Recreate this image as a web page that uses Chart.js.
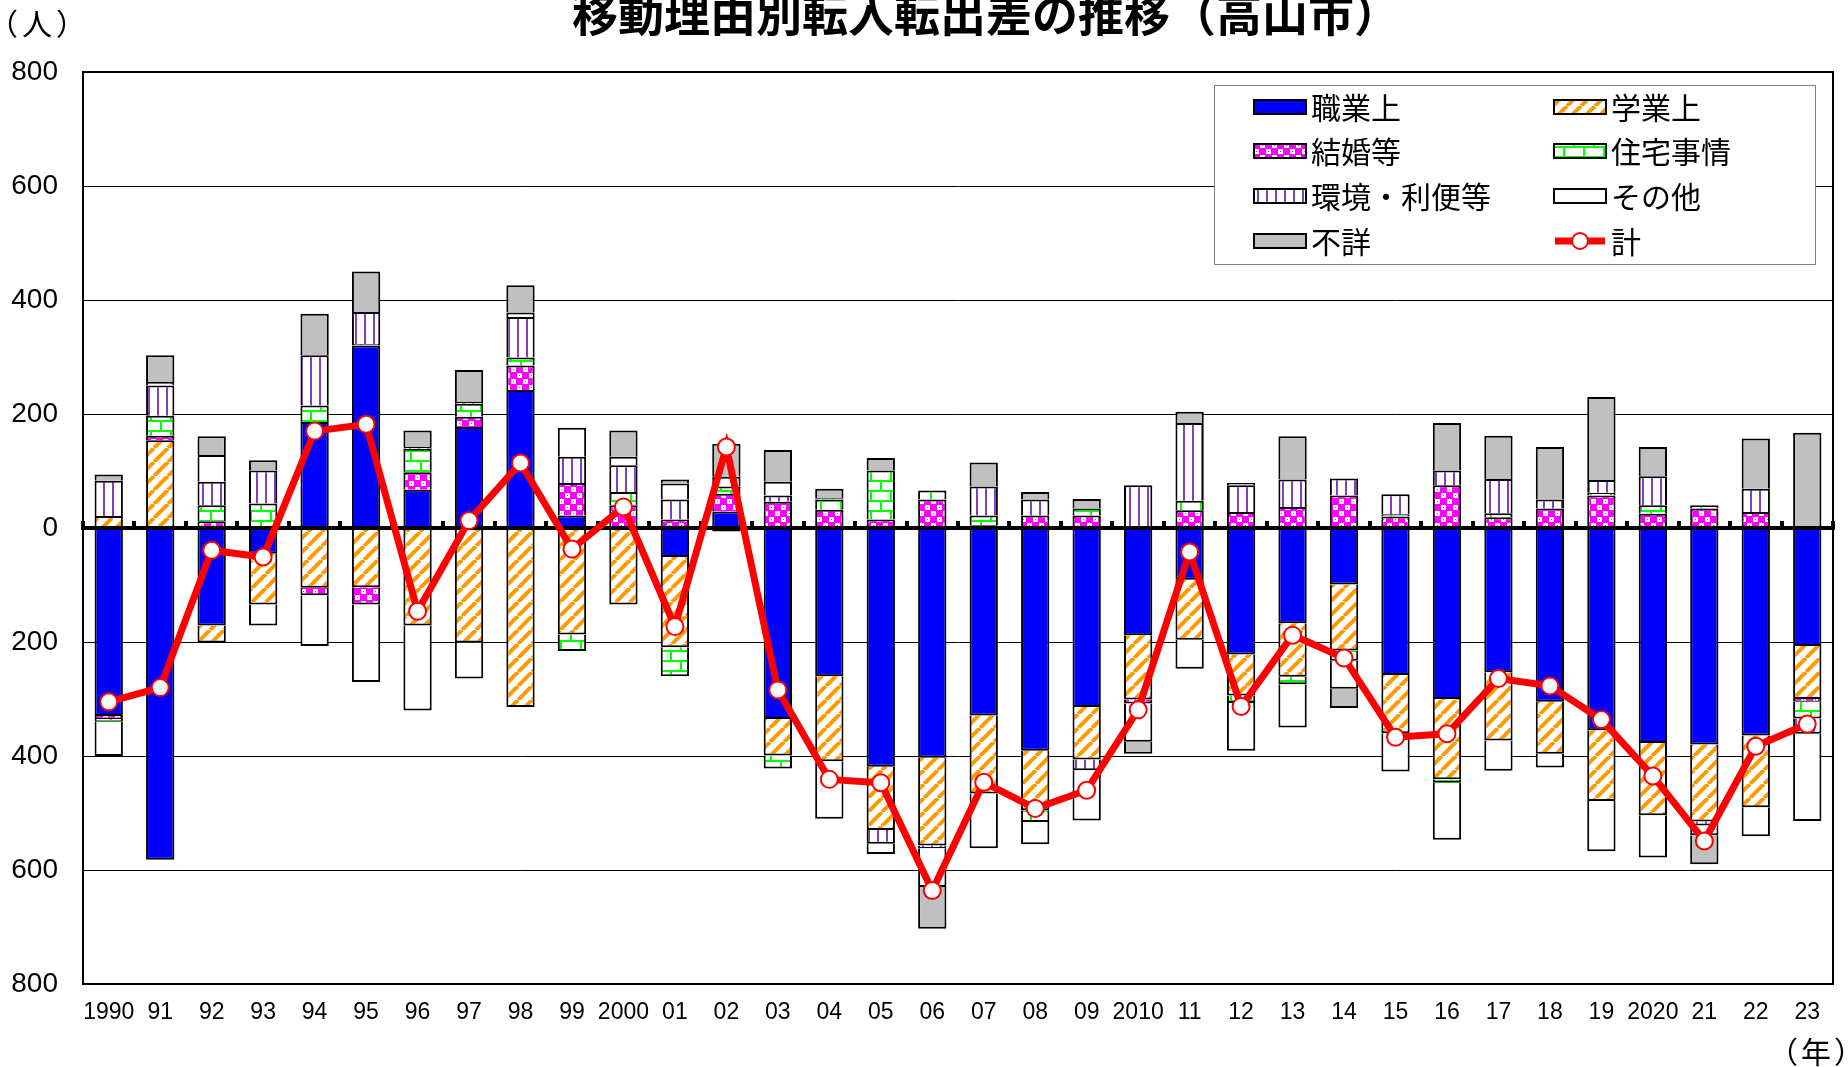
<!DOCTYPE html>
<html lang="ja">
<head>
<meta charset="utf-8">
<title>移動理由別転入転出差の推移（高山市）</title>
<script src="https://cdn.jsdelivr.net/npm/chart.js@4.4.1/dist/chart.umd.min.js"></script>
<style>
  html, body { margin: 0; padding: 0; background: #fff; overflow: hidden; }
  #wrap { position: relative; width: 1848px; height: 1067px; overflow: hidden; background: #fff; }
  #chartBox { position: absolute; left: 0; top: 0; width: 1848px; height: 1067px; }
  .jp { font-family: "Noto Sans CJK JP", "Noto Sans CJK SC", sans-serif; color: #000; position: absolute; white-space: nowrap; line-height: 1; }
  #title { font-size: 46px; font-weight: bold; left: 986px; top: -12px; transform: translateX(-50%); }
  #unitY { font-size: 30px; left: -12px; top: 7px; letter-spacing: 4px; }
  #unitX { font-size: 30px; left: 1768px; top: 1035px; letter-spacing: 3px; }
  #legend { position: absolute; left: 1214px; top: 85px; width: 600px; height: 178px; border: 1px solid #808080; background: #fff; }
  .item { position: absolute; height: 30px; }
  .item canvas { position: absolute; left: 0; top: 0; }
  .item span { position: absolute; left: 58px; top: -1px; font-size: 30px; line-height: 30px; font-family: "Noto Sans CJK JP", sans-serif; color: #000; white-space: nowrap; }
</style>
</head>
<body>
<div id="wrap">
  <div id="chartBox"><canvas id="c"></canvas></div>
  <div id="title" class="jp">移動理由別転入転出差の推移（高山市）</div>
  <div id="unitY" class="jp">（人）</div>
  <div id="unitX" class="jp">（年）</div>
  <div id="legend"></div>
</div>
<script>
// ---- data (persons, net in-migration minus out-migration) ----
const years = ['1990','91','92','93','94','95','96','97','98','99','2000','01','02','03','04','05','06','07','08','09','2010','11','12','13','14','15','16','17','18','19','2020','21','22','23'];
const seriesNames = ['職業上','学業上','結婚等','住宅事情','環境・利便等','その他','不詳','計'];

const job      = [-330,-582,-171,-45,186,320,67,177,242,22,null,-51,29,-335,-260,-419,-403,-329,-391,-314,-188,-91,-222,-167,-99,-258,-300,-253,-305,-355,-377,-380,-364,-207];
const school   = [21,154,-30,-89,-105,-104,-171,-201,-314,-187,-134,-158,-6,-64,-149,-111,-154,-137,-104,-92,-113,-105,-72,-94,-116,-102,-141,-120,-91,-124,-127,-135,-126,-93];
const marriage = [-5,8,12,null,-13,-30,31,18,43,57,40,15,31,46,32,15,50,5,22,22,-7,31,28,37,57,20,75,19,34,57,25,34,28,-5];
const housing  = [-5,35,28,43,29,3,41,23,14,-29,23,-51,13,-23,18,86,16,17,-21,12,null,17,-13,-13,-18,4,-6,7,null,5,15,6,null,-29];
const env      = [62,53,41,58,88,56,3,3,71,46,47,35,null,11,2,-24,-5,51,28,-19,75,136,47,48,30,35,26,60,16,22,51,-7,41,-27];
const other    = [-60,6,47,-37,-89,-136,-149,-63,8,51,15,28,17,24,-101,-18,-68,-96,-39,-88,-67,-51,-84,-76,-49,-67,-100,-53,-24,-88,-74,-17,-51,-153];
const unknown  = [11,47,33,18,73,71,29,56,48,null,46,7,58,56,17,22,-73,42,13,17,-21,20,4,76,-34,null,83,76,92,146,51,-51,88,167];
const total    = [-305,-280,-39,-51,170,182,-146,13,114,-37,37,-173,142,-284,-441,-447,-636,-446,-492,-460,-319,-42,-313,-188,-228,-367,-361,-264,-277,-336,-435,-549,-383,-344];

const yTicks = [-800,-600,-400,-200,0,200,400,600,800];

// ---- patterns ----
function tile(w, h, draw) {
  const t = document.createElement('canvas');
  t.width = w; t.height = h;
  draw(t.getContext('2d'), w, h);
  return t;
}
const tiles = {
  school: tile(14, 14, (g, s) => {
    g.fillStyle = '#fff'; g.fillRect(0, 0, s, s);
    g.strokeStyle = '#FF9900'; g.lineWidth = 4;
    for (let k = -1; k <= 1; k++) { g.beginPath(); g.moveTo(k * s, s); g.lineTo(k * s + s, 0); g.stroke(); }
  }),
  marriage: tile(12, 12, (g) => {
    g.fillStyle = '#FF00FF'; g.fillRect(0, 0, 12, 12);
    g.fillStyle = '#fff'; g.fillRect(1, 1, 5, 5); g.fillRect(7, 7, 5, 5);
    g.fillStyle = '#FF00FF'; g.fillRect(3, 3, 1, 1); g.fillRect(9, 9, 1, 1);
  }),
  housing: tile(20, 20, (g) => {
    g.fillStyle = '#fff'; g.fillRect(0, 0, 20, 20);
    g.fillStyle = '#00FF00';
    g.fillRect(0, 0, 20, 2); g.fillRect(0, 10, 20, 2);
    g.fillRect(0, 0, 2, 10); g.fillRect(10, 10, 2, 10);
  }),
  env: tile(9, 4, (g) => {
    g.fillStyle = '#fff'; g.fillRect(0, 0, 9, 4);
    g.fillStyle = '#7F3FBF'; g.fillRect(4, 0, 2, 4);
  })
};
const mainCtx = document.getElementById('c').getContext('2d');
const pat = (name) => mainCtx.createPattern(tiles[name], 'repeat');

const fills = ['#0000FF', pat('school'), pat('marriage'), pat('housing'), pat('env'), '#FFFFFF', '#C0C0C0'];
const barSeries = [job, school, marriage, housing, env, other, unknown];

const datasets = barSeries.map((vals, i) => ({
  type: 'bar',
  label: seriesNames[i],
  data: vals,
  backgroundColor: fills[i],
  borderColor: '#000',
  borderWidth: 2,
  barPercentage: 0.55,
  categoryPercentage: 1.0,
  stack: 'reasons'
}));
datasets.push({
  type: 'line',
  label: seriesNames[7],
  data: total,
  borderColor: '#FF0000',
  borderWidth: 7,
  pointRadius: 8.5,
  pointBackgroundColor: '#FFFFFF',
  pointBorderColor: '#FF0000',
  pointBorderWidth: 2,
  tension: 0,
  stack: 'total',
  order: -1
});

// redraw the zero axis over the bars, under the total line
const zeroAxisOverBars = {
  id: 'zeroAxisOverBars',
  beforeDatasetDraw(chart, args) {
    if (args.meta.type === 'line') chart.scales.x2.draw(chart.chartArea);
  }
};

const tickFont = { family: '"Liberation Sans", Arial, sans-serif' };

new Chart(mainCtx, {
  data: { labels: years, datasets },
  plugins: [zeroAxisOverBars],
  options: {
    responsive: true,
    maintainAspectRatio: false,
    animation: false,
    layout: { padding: { top: 72, left: 0, right: 0, bottom: 0 } },
    plugins: {
      legend: { display: false },
      tooltip: { enabled: false },
      title: { display: false }
    },
    scales: {
      x: {
        type: 'category',
        stacked: true,
        offset: true,
        grid: { display: false, drawTicks: false },
        border: { display: true, width: 2, color: '#000' },
        ticks: { color: '#000', font: { ...tickFont, size: 23 }, padding: 15, maxRotation: 0, autoSkip: false },
        afterFit: (s) => { s.height = 83; }
      },
      x2: {
        type: 'category',
        position: { y: 0 },
        offset: true,
        grid: { display: true, offset: true, drawOnChartArea: false, drawTicks: true, tickLength: -9, lineWidth: 4, color: '#000' },
        border: { display: true, width: 4, color: '#000' },
        ticks: { display: false }
      },
      y: {
        stacked: true,
        min: -800,
        max: 800,
        afterBuildTicks: (s) => { s.ticks = yTicks.map(v => ({ value: v })); },
        grid: {
          drawTicks: false,
          color: (c) => (c.tick && c.tick.value === 0) ? 'rgba(0,0,0,0)' : '#000',
          lineWidth: (c) => (c.tick && Math.abs(c.tick.value) === 800) ? 2 : 1
        },
        border: { display: true, width: 2, color: '#000' },
        ticks: { color: '#000', font: { ...tickFont, size: 28 }, padding: 25, callback: (v) => String(Math.abs(v)) },
        afterFit: (s) => { s.width = 83; }
      },
      yR: {
        position: 'right',
        display: true,
        grid: { display: false, drawTicks: false },
        border: { display: true, width: 2, color: '#000' },
        ticks: { display: false },
        afterFit: (s) => { s.width = 15; }
      }
    }
  }
});

// ---- legend (HTML, 4 rows x 2 columns) ----
const legend = document.getElementById('legend');
const colX = [38, 338];
const rowY = [6, 50, 95, 140];
const keys = ['job','school','marriage','housing','env','other','unknown'];
seriesNames.forEach((name, idx) => {
  const item = document.createElement('div');
  item.className = 'item';
  item.style.left = colX[idx % 2] + 'px';
  item.style.top = rowY[Math.floor(idx / 2)] + 'px';
  const cv = document.createElement('canvas');
  cv.width = 54; cv.height = 30;
  const g = cv.getContext('2d');
  if (idx < 7) {
    const key = keys[idx];
    g.fillStyle = tiles[key] ? g.createPattern(tiles[key], 'repeat') : fills[idx];
    g.fillRect(1, 8, 52, 14);
    g.lineWidth = 2; g.strokeStyle = '#000';
    g.strokeRect(1, 8, 52, 14);
  } else {
    g.strokeStyle = '#FF0000'; g.lineWidth = 7;
    g.beginPath(); g.moveTo(2, 15); g.lineTo(52, 15); g.stroke();
    g.beginPath(); g.arc(27, 15, 8, 0, Math.PI * 2);
    g.fillStyle = '#fff'; g.fill(); g.lineWidth = 2; g.stroke();
  }
  item.appendChild(cv);
  const sp = document.createElement('span');
  sp.textContent = name;
  item.appendChild(sp);
  legend.appendChild(item);
});
</script>
</body>
</html>
